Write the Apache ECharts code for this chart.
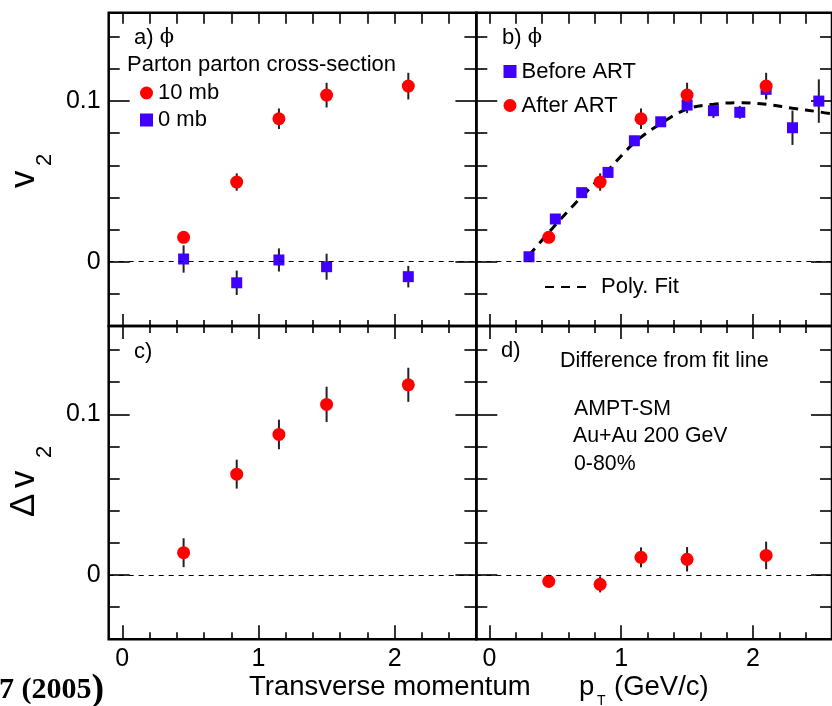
<!DOCTYPE html>
<html><head><meta charset="utf-8">
<script src="https://cdn.jsdelivr.net/npm/echarts@6/dist/echarts.min.js"></script>
<style>html,body{margin:0;padding:0;background:#fff}#c{width:832px;height:706px}</style>
</head><body><div id="c"></div><script>
// ---- tick values / labels ----
const xMajorTicks = [0, 1, 2];
const xMinorTicks = [0.2, 0.4, 0.6, 0.8, 1.2, 1.4, 1.6, 1.8, 2.2, 2.4];
const xTickLabels = ['0', '1', '2'];
const yMajorTicks = [0, 0.1];
const yMinorTicks = [-0.02, 0.02, 0.04, 0.06, 0.08, 0.12, 0.14];
const yTickLabels = ['0', '0.1'];

// ---- panel a) : parton cross-section ----
const ptA = [0.45, 0.84, 1.15, 1.50, 2.10];
const v2_10mb = [0.0152, 0.0496, 0.0890, 0.1037, 0.1093];
const err_10mb = [0.003, 0.0054, 0.0064, 0.0077, 0.0083];
const v2_0mb = [0.0017, -0.0131, 0.0011, -0.0031, -0.0093];
const err_0mb = [0.0085, 0.0076, 0.0072, 0.0081, 0.0067];

// ---- panel b) : before / after ART ----
const ptBefore = [0.3, 0.5, 0.7, 0.9, 1.1, 1.3, 1.5, 1.7, 1.9, 2.1, 2.3, 2.5];
const v2Before = [0.0031, 0.0266, 0.0430, 0.0556, 0.0753, 0.0871, 0.0975, 0.0940, 0.0930, 0.1073, 0.0834, 0.1000];
const errBefore = [0.002, 0.002, 0.002, 0.003, 0.003, 0.003, 0.005, 0.0045, 0.004, 0.006, 0.0107, 0.0135];
const ptAfter = [0.45, 0.84, 1.15, 1.50, 2.10];
const v2After = [0.0152, 0.0496, 0.0890, 0.1037, 0.1093];
const errAfter = [0.003, 0.0054, 0.0064, 0.0077, 0.0083];
const ptFit = [0.3, 0.5, 0.7, 0.9, 1.1, 1.3, 1.5, 1.7, 1.9, 2.1, 2.3, 2.5, 2.6];
const v2Fit = [0.004, 0.0228, 0.0405, 0.057, 0.074, 0.086, 0.095, 0.098, 0.099, 0.098, 0.0955, 0.0933, 0.092];

// ---- panel c) : delta v2 (10 mb - 0 mb) ----
const ptC = [0.45, 0.84, 1.15, 1.50, 2.10];
const dv2C = [0.0139, 0.0628, 0.0875, 0.1062, 0.1184];
const errC = [0.009, 0.009, 0.0092, 0.011, 0.0106];

// ---- panel d) : difference from fit line ----
const ptD = [0.45, 0.84, 1.15, 1.50, 2.10];
const dv2D = [-0.0039, -0.0058, 0.0110, 0.0098, 0.0122];
const errD = [0.004, 0.005, 0.0062, 0.0076, 0.0086];

// ---- layout ----
const FONT = "'Liberation Sans', Arial, Helvetica, sans-serif";
const RED = '#ff0000', BLUE = '#4000ff';
const boxes = [
  {left: 108.7, top: 12.7, width: 367.7, height: 313.3},
  {left: 476.3, top: 12.7, width: 367.7, height: 313.3},
  {left: 108.7, top: 326, width: 367.7, height: 313.3},
  {left: 476.3, top: 326, width: 367.7, height: 313.3}
];
const grids = boxes.map(b => Object.assign({show: true, borderColor: '#000', borderWidth: 2.5, backgroundColor: 'transparent'}, b));
const xAxes = [], yAxes = [], main = [];
const tickStyle = {color: '#000', width: 1.6};
boxes.forEach((b, g) => {
  const topRow = g < 2, bottomRow = g >= 2, leftCol = g % 2 === 0;
  const mk = (pos, vals, len, labels) => ({
    gridIndex: g, type: 'value', min: -0.1, max: 2.6, position: pos,
    axisLine: {show: false, onZero: false}, splitLine: {show: false},
    axisTick: {show: true, inside: true, length: len, customValues: vals, lineStyle: tickStyle},
    axisLabel: labels ? {show: true, customValues: xMajorTicks, formatter: v => xTickLabels[xMajorTicks.indexOf(Math.round(v))],
      fontSize: 25, fontFamily: FONT, color: '#000', margin: 7} : {show: false}
  });
  const xi = xAxes.length;
  xAxes.push(mk('bottom', xMajorTicks, topRow ? 12 : 14, bottomRow));
  xAxes.push(mk('bottom', xMinorTicks, topRow ? 6 : 7, false));
  xAxes.push(mk('top', xMajorTicks, topRow ? 11 : 13, false));
  xAxes.push(mk('top', xMinorTicks, topRow ? 11 : 7, false));
  const mky = (pos, vals, len, labels) => ({
    gridIndex: g, type: 'value', min: -0.04, max: 0.155, position: pos,
    axisLine: {show: false, onZero: false}, splitLine: {show: false},
    axisTick: {show: true, inside: true, length: len, customValues: vals, lineStyle: tickStyle},
    axisLabel: labels ? {show: true, customValues: yMajorTicks, formatter: v => yTickLabels[yMajorTicks.indexOf(Math.round(v * 10) / 10)],
      fontSize: 25, fontFamily: FONT, color: '#000', margin: 8} : {show: false}
  });
  const yi = yAxes.length;
  yAxes.push(mky('left', yMajorTicks, 21, leftCol));
  yAxes.push(mky('left', yMinorTicks, 11, false));
  yAxes.push(mky('right', yMajorTicks, 21, false));
  yAxes.push(mky('right', yMinorTicks, 12, false));
  main.push([xi, yi]);
});

const pairs = (xs, ys) => xs.map((x, i) => [x, ys[i]]);
const zeroLine = {silent: true, symbol: ['none', 'none'], label: {show: false},
  lineStyle: {type: [5, 5], width: 1, color: '#000'}, data: [{yAxis: 0}], animation: false};
function errSeries(g, xs, ys, es) {
  return {type: 'custom', xAxisIndex: main[g][0], yAxisIndex: main[g][1], silent: true, z: 1,
    data: xs.map((x, i) => [x, ys[i], es[i]]),
    renderItem: (p, api) => {
      const x = api.value(0), y = api.value(1), e = api.value(2);
      const a = api.coord([x, y - e]), b = api.coord([x, y + e]);
      return {type: 'line', shape: {x1: a[0], y1: a[1], x2: b[0], y2: b[1]}, style: {stroke: '#222', lineWidth: 2}};
    }};
}
function pts(g, name, xs, ys, kind, extra) {
  return Object.assign({type: 'scatter', name, xAxisIndex: main[g][0], yAxisIndex: main[g][1], z: 3,
    symbol: kind === 'sq' ? 'rect' : 'circle', symbolSize: kind === 'sq' ? 11 : 13,
    itemStyle: {color: kind === 'sq' ? BLUE : RED, opacity: 1}, data: pairs(xs, ys)}, extra || {});
}

const series = [
  errSeries(0, ptA, v2_10mb, err_10mb), errSeries(0, ptA, v2_0mb, err_0mb),
  pts(0, '10 mb', ptA, v2_10mb, 'c', {markLine: zeroLine}),
  pts(0, '0 mb', ptA, v2_0mb, 'sq'),
  errSeries(1, ptBefore, v2Before, errBefore), errSeries(1, ptAfter, v2After, errAfter),
  {type: 'line', name: 'Poly. Fit', xAxisIndex: main[1][0], yAxisIndex: main[1][1], z: 2, smooth: 0.4,
    symbol: 'none', showSymbol: false, data: pairs(ptFit, v2Fit), lineStyle: {type: [9, 7], width: 3, color: '#000'},
    itemStyle: {color: '#000'}, markLine: zeroLine},
  pts(1, 'Before ART', ptBefore, v2Before, 'sq'),
  pts(1, 'After ART', ptAfter, v2After, 'c'),
  errSeries(2, ptC, dv2C, errC),
  pts(2, 'dC', ptC, dv2C, 'c', {markLine: zeroLine}),
  errSeries(3, ptD, dv2D, errD),
  pts(3, 'dD', ptD, dv2D, 'c', {markLine: zeroLine})
];

const legTxt = {fontSize: 22, fontFamily: FONT, color: '#000'};
const legends = [
  {data: ['10 mb', '0 mb'], orient: 'vertical', left: 140, top: 82, padding: 0, itemWidth: 13, itemHeight: 13, itemGap: 5, selectedMode: false, textStyle: legTxt},
  {data: ['Before ART', 'After ART'], orient: 'vertical', left: 503.5, top: 60.5, padding: 0, itemWidth: 13, itemHeight: 13, itemGap: 12, selectedMode: false, textStyle: legTxt},
  {data: ['Poly. Fit'], left: 544, top: 276, padding: 0, itemWidth: 41, itemHeight: 10, selectedMode: false,
    itemStyle: {color: 'transparent', borderWidth: 0, opacity: 0},
    textStyle: Object.assign({padding: [0, 0, 0, 10]}, legTxt)}
];

const SERIF = "'DejaVu Serif', 'Liberation Serif', serif";
const T = (text, x, y, size, extra) => ({type: 'text', x, y, silent: true,
  style: Object.assign({text, fontSize: size, fontFamily: FONT, fill: '#000', verticalAlign: 'middle', align: 'left'}, extra || {})});
const phiLabel = (lbl, x, y) => ({type: 'text', x, y, silent: true, style: {text: '{a|' + lbl + ') }{p|ϕ}', verticalAlign: 'middle',
  rich: {a: {fontSize: 22, fontFamily: FONT, fill: '#000'}, p: {fontSize: 21, fontFamily: SERIF, fill: '#000'}}}});
const graphic = [
  phiLabel('a', 134, 38), T('Parton parton cross-section', 127, 65, 22),
  phiLabel('b', 502, 38),
  T('c)', 134, 352, 22), T('d)', 501, 351, 22),
  T('Difference from fit line', 560, 361, 21.5),
  T('AMPT-SM', 574, 409, 21.3), T('Au+Au 200 GeV', 573, 436.5, 21.3), T('0-80%', 574, 464, 21.3),
  T('Transverse momentum', 249, 687, 27.5), T('p', 579, 687, 27.5), T('T', 597, 701, 14), T('(GeV/c)', 614, 687, 27.5),
  {type: 'text', x: -1, y: 690, silent: true, style: {text: '{a|7 (2005}{b|)}', verticalAlign: 'middle',
    rich: {a: {fontSize: 30, fontWeight: 'bold', fontFamily: "'Liberation Serif', 'Times New Roman', serif", fill: '#000'},
           b: {fontSize: 38, fontWeight: 'bold', fontFamily: "'Liberation Serif', 'Times New Roman', serif", fill: '#000'}}}},
  // y titles: groups rotated 90° CCW; local x runs upward along the panel, local y runs to the right
  {type: 'group', x: 27, y: 171, rotation: Math.PI / 2, silent: true, children: [
    T('v', -17, -3, 35), T('2', 5, 17.5, 22)]},
  {type: 'group', x: 27, y: 481, rotation: Math.PI / 2, silent: true, children: [
    T('Δ', -36, -3, 35), T('v', -7, -3, 35), T('2', 23, 17.5, 22)]}
];

const chart = echarts.init(document.getElementById('c'), null, {renderer: 'canvas'});
chart.setOption({animation: false, grid: grids, xAxis: xAxes, yAxis: yAxes, series, legend: legends, graphic});
</script></body></html>
